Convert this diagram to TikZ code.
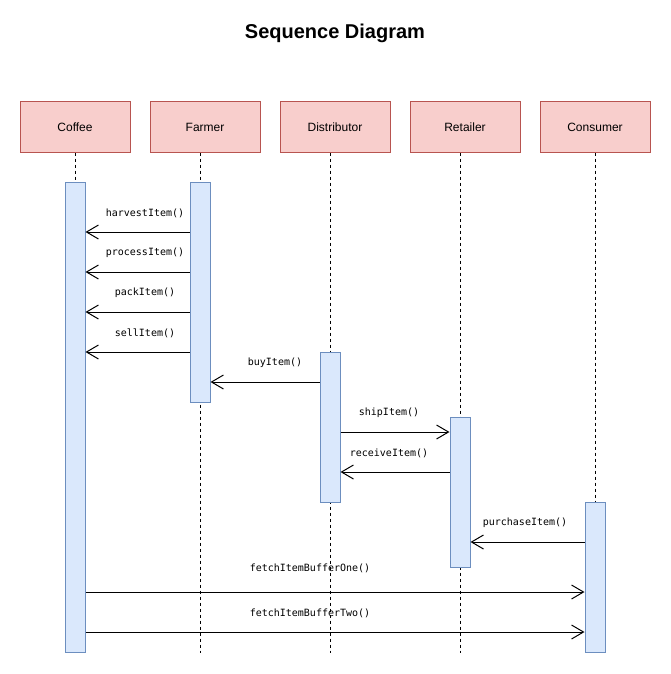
\documentclass[tikz,border=0pt]{standalone}
\usepackage{fontspec}
\setmainfont{Liberation Sans}
\newfontfamily\msgfont{DejaVu Sans Mono}
\usetikzlibrary{arrows.meta, positioning, backgrounds}
\definecolor{cpink}{HTML}{F8CECC}
\definecolor{cred}{HTML}{B85450}
\definecolor{cblue}{HTML}{DAE8FC}
\definecolor{cblueline}{HTML}{6C8EBF}
\tikzset{
  every picture/.style={x=1pt, y=-1pt, line width=1pt},
  actor/.style={draw=cred, fill=cpink, minimum width=110pt, minimum height=50pt, inner sep=0pt, font=\fontsize{12}{14}\selectfont},
  actbar/.style={draw=cblueline, fill=cblue, minimum width=20pt, inner sep=0pt, minimum height=#1},
  actbar/.default=150pt,
  lifeline/.style={draw=black, dash pattern=on 3pt off 3pt},
  msg/.style={-{Straight Barb[length=12pt, width=14pt]}, draw=black},
  msglabel/.style={font=\msgfont\fontsize{10}{12}\selectfont, inner sep=1pt},
  title/.style={font=\bfseries\fontsize{20}{24}\selectfont},
}

\begin{document}
\begin{tikzpicture}
  \useasboundingbox (0,0) rectangle (671,674);
  \node[title] (title) at (335,33) {Sequence Diagram};
  % participants
  \node[actor] (coffee) at (75,127) {Coffee};
  \node[actor] (farmer) at (205,127) {Farmer};
  \node[actor] (dist) at (335,127) {Distributor};
  \node[actor] (retail) at (465,127) {Retailer};
  \node[actor] (consumer) at (595,127) {Consumer};
  % activation bars
  \node[actbar=470pt] (coffeeA) at (75,417) {};
  \node[actbar=220pt] (farmerA) at (200,292) {};
  \node[actbar] (distA) at (330,427) {};
  \node[actbar] (retailA) at (460,492) {};
  \node[actbar] (consumerA) at (595,577) {};
  \begin{scope}[on background layer]
    \draw[lifeline] (coffee.south) -- (coffeeA.south);
    \draw[lifeline] (farmer.south -| farmerA) -- (farmerA.south |- coffeeA.south);
    \draw[lifeline] (dist.south -| distA) -- (distA.south |- coffeeA.south);
    \draw[lifeline] (retail.south -| retailA) -- (retailA.south |- coffeeA.south);
    \draw[lifeline] (consumer.south) -- (consumerA.north);
  \end{scope}
  % messages
  \draw[msg] (farmerA.west |- 0,232) -- (coffeeA.east |- 0,232);
  \node[msglabel] (m1) at (145,213) {harvestItem()};
  \draw[msg] (farmerA.west |- 0,272) -- (coffeeA.east |- 0,272);
  \node[msglabel] (m2) at (145,253) {processItem()};
  \draw[msg] (farmerA.west |- 0,312) -- (coffeeA.east |- 0,312);
  \node[msglabel] (m3) at (145,293) {packItem()};
  \draw[msg] (farmerA.west |- 0,352) -- (coffeeA.east |- 0,352);
  \node[msglabel] (m4) at (145,333) {sellItem()};
  \draw[msg] (distA.west |- 0,382) -- (farmerA.east |- 0,382);
  \node[msglabel] (m5) at (275,363) {buyItem()};
  \draw[msg] (distA.east |- 0,432) -- (retailA.west |- 0,432);
  \node[msglabel] (m6) at (389,413) {shipItem()};
  \draw[msg] (retailA.west |- 0,472) -- (distA.east |- 0,472);
  \node[msglabel] (m7) at (389,453) {receiveItem()};
  \draw[msg] (consumerA.west |- 0,542) -- (retailA.east |- 0,542);
  \node[msglabel] (m8) at (525,523) {purchaseItem()};
  \draw[msg] (coffeeA.east |- 0,592) -- (consumerA.west |- 0,592);
  \node[msglabel] (m9) at (310,568) {fetchItemBufferOne()};
  \draw[msg] (coffeeA.east |- 0,632) -- (consumerA.west |- 0,632);
  \node[msglabel] (m10) at (310,613) {fetchItemBufferTwo()};
\end{tikzpicture}
\end{document}
